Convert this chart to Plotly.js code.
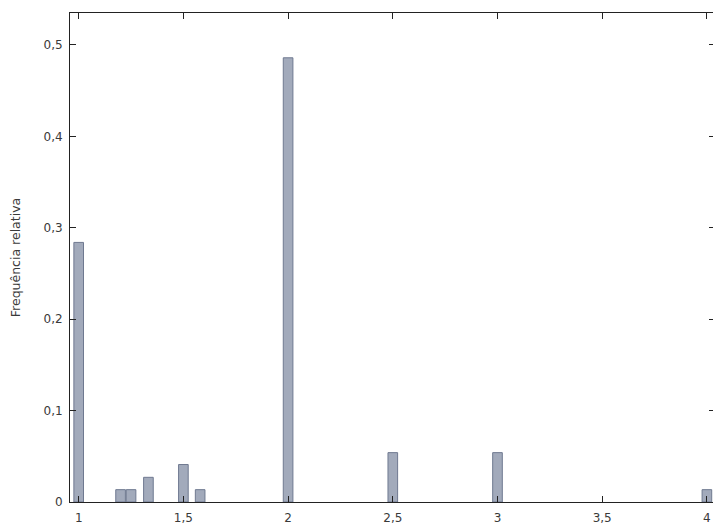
<!DOCTYPE html>
<html><head><meta charset="utf-8">
<script src="https://cdn.plot.ly/plotly-3.0.1.min.js"></script>
<style>html,body{margin:0;padding:0;overflow:hidden;background:#fff;}#chart{width:715px;height:525px;}</style>
</head><body><div id="chart"></div>
<script>
var values = [1, 1.2, 1.25, 1.333, 1.5, 1.58, 2, 2.5, 3, 4];
var relFreq = [0.284, 0.0135, 0.0135, 0.027, 0.041, 0.0135, 0.486, 0.054, 0.054, 0.0135];
var yTitle = 'Frequência relativa';

var trace = {
  type: 'bar', x: values, y: relFreq, width: 0.046,
  marker: {color: '#a2aabb', line: {color: '#6f7990', width: 1}},
  hoverinfo: 'skip'
};
var font = {family: 'DejaVu Sans, Verdana, sans-serif', size: 12, color: '#3a3a3a'};
var layout = {
  width: 715, height: 525,
  margin: {l: 70, r: 0, t: 13, b: 23, pad: 0},
  paper_bgcolor: '#fff', plot_bgcolor: '#fff',
  separators: ',.',
  font: font,
  showlegend: false,
  xaxis: {
    range: [0.9585, 4.0387], dtick: 0.5, tick0: 1,
    ticks: 'inside', ticklen: 6, tickcolor: '#222', tickwidth: 1,
    showline: true, linecolor: '#222', linewidth: 1, mirror: 'ticks',
    showgrid: false, zeroline: false, ticklabelstandoff: 5
  },
  yaxis: {
    range: [0, 0.535], dtick: 0.1, tick0: 0,
    ticks: 'inside', ticklen: 6, tickcolor: '#222', tickwidth: 1,
    showline: true, linecolor: '#222', linewidth: 1, mirror: 'ticks',
    showgrid: false, zeroline: false, ticklabelstandoff: 4,
    title: {text: yTitle, font: {family: font.family, size: 12.5, color: '#3a3a3a'}, standoff: 20}
  }
};
Plotly.newPlot('chart', [trace], layout, {staticPlot: true, displayModeBar: false});
</script></body></html>
